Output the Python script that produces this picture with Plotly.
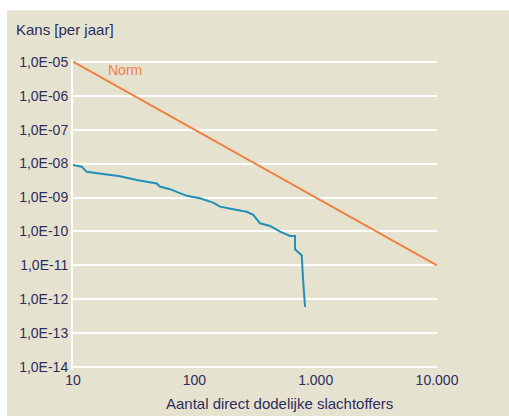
import plotly.graph_objects as go

# Data
norm_n = [10, 100, 1000, 10000]
norm_p = [1e-5, 1e-7, 1e-9, 1e-11]

fn_n = [10, 11.8, 13, 16.7, 24.4, 33.5, 49, 52, 63, 86.5, 111, 143, 163, 209,
        270, 306, 348, 421, 509, 615, 676, 676, 720, 767, 790, 818]
fn_p = [9.1e-9, 8.1e-9, 5.7e-9, 5.0e-9, 4.2e-9, 3.3e-9, 2.6e-9, 2.1e-9, 1.76e-9,
        1.12e-9, 9.5e-10, 7.1e-10, 5.4e-10, 4.5e-10, 3.8e-10, 3.1e-10, 1.74e-10,
        1.45e-10, 9.9e-11, 7.4e-11, 7.4e-11, 3.0e-11, 2.5e-11, 2.0e-11, 3.2e-12, 6.0e-13]

y_tickvals = [1e-5, 1e-6, 1e-7, 1e-8, 1e-9, 1e-10, 1e-11, 1e-12, 1e-13, 1e-14]
y_ticktext = ["1,0E-05", "1,0E-06", "1,0E-07", "1,0E-08", "1,0E-09",
              "1,0E-10", "1,0E-11", "1,0E-12", "1,0E-13", "1,0E-14"]
x_tickvals = [10, 100, 1000, 10000]
x_ticktext = ["10", "100", "1.000", "10.000"]

BG = "#e5e3d0"
TXT = "#2d2c5c"
ORANGE = "#f08040"
BLUE = "#2190b9"
FONT = "Liberation Sans, Arial, sans-serif"

W, H = 509, 416
L, R = 73, 437
T, B = 59.3, 369.7

fig = go.Figure()
fig.add_trace(go.Scatter(x=norm_n, y=norm_p, mode="lines",
                         line=dict(color=ORANGE, width=2), showlegend=False))
fig.add_trace(go.Scatter(x=fn_n, y=fn_p, mode="lines",
                         line=dict(color=BLUE, width=2), showlegend=False))

pw = R - L
ph = B - T
fig.add_shape(type="rect", xref="paper", yref="paper", layer="below",
              x0=(7 - L) / pw, x1=(W - L) / pw,
              y0=-(H - B) / ph, y1=1 + (T - 11) / ph,
              fillcolor=BG, line=dict(width=0))

fig.add_annotation(text="Kans [per jaar]", xref="paper", yref="paper",
                   x=(14 - L) / pw, y=1 + (T - 30) / ph, xanchor="left", yanchor="middle",
                   showarrow=False, font=dict(family=FONT, size=15, color=TXT))
fig.add_annotation(text="Aantal direct dodelijke slachtoffers", xref="paper", yref="paper",
                   x=(279 - L) / pw, y=-(403 - B) / ph, xanchor="center", yanchor="middle",
                   showarrow=False, font=dict(family=FONT, size=15, color=TXT))
fig.add_annotation(text="Norm", xref="paper", yref="paper",
                   x=(106 - L) / pw, y=1 - (70 - T) / ph, xanchor="left", yanchor="middle",
                   showarrow=False, font=dict(family=FONT, size=14, color=ORANGE))

fig.update_layout(
    width=W, height=H,
    margin=dict(l=L, r=W - R, t=T, b=H - B, pad=0),
    paper_bgcolor="white", plot_bgcolor=BG,
    font=dict(family=FONT, size=14, color=TXT),
    xaxis=dict(type="log", range=[1, 4], tickvals=x_tickvals, ticktext=x_ticktext,
               showgrid=False, zeroline=False, showline=False, ticks="",
               tickfont=dict(size=14, color=TXT)),
    yaxis=dict(type="log", range=[-14.08, -4.92], tickvals=y_tickvals, ticktext=y_ticktext,
               showgrid=True, gridcolor="white", gridwidth=2, zeroline=False,
               showline=True, linecolor="white", linewidth=2, ticks="",
               tickfont=dict(size=14, color=TXT)),
)

fig.write_html("out.html", config={"displayModeBar": False},
               post_script="document.body.style.margin='0px';document.body.style.overflow='hidden';")
